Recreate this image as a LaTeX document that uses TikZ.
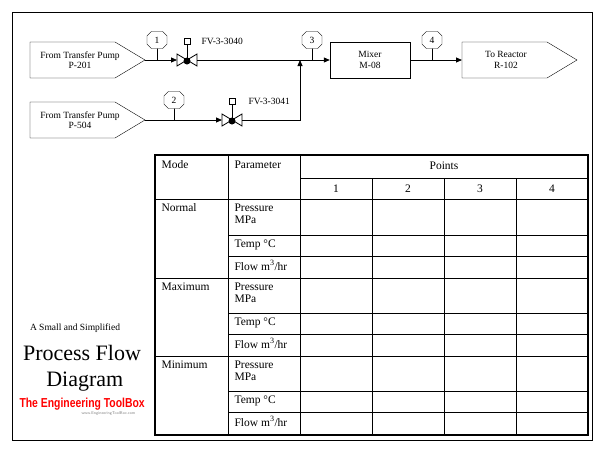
\documentclass[tikz,border=0pt]{standalone}
\usepackage{fontspec}
\setmainfont{Liberation Serif}
\newfontfamily\logofont{Liberation Sans}[FakeStretch=0.8]
\usetikzlibrary{arrows.meta,shapes.misc}
\begin{document}
\begin{tikzpicture}[x=1pt,y=-1pt,
  lbl/.style={font=\fontsize{9.5}{10.5}\selectfont},
  tlbl/.style={font=\fontsize{11.5}{12.5}\selectfont},
  tag/.style={draw,chamfered rectangle,chamfered rectangle xsep=2pt,minimum width=20pt,minimum height=17pt,inner sep=0pt,fill=white,font=\fontsize{9.5}{10}\selectfont},
  pipe/.style={line width=0.8pt},
  arr/.style={pipe,-{Triangle[length=6pt,width=5pt]}}]
\useasboundingbox (0,0) rectangle (600,450);
\draw[line width=0.8pt] (12,12) rectangle (592,440);
% sources
\draw (30,42) -- (115,42) -- (145,60) -- (115,78) -- (30,78) -- cycle;
\node[lbl,align=center] (s1) at (80,60) {From Transfer Pump\\P-201};
\coordinate (s1o) at (145,60);
\draw (30,102) -- (115,102) -- (145,120) -- (115,138) -- (30,138) -- cycle;
\node[lbl,align=center] (s2) at (80,120) {From Transfer Pump\\P-504};
\coordinate (s2o) at (145,120);
% valve 1
\coordinate (v1a) at (177,60); \coordinate (v1b) at (197,60);
\draw[arr] (s1o) -- (v1a);
\draw[pipe] (v1a)++(0,-6) -- ++(0,12) -- ++(20,-12) -- ++(0,12) -- ++(-20,-12) -- cycle;
\fill (187,61) circle (3.5pt);
\draw (187,60) -- (187,44); \draw[fill=white] (184,38) rectangle (190,44);
\node[lbl,anchor=west] (fv1) at (198,41) {FV-3-3040};
% valve 2
\coordinate (v2a) at (222,120); \coordinate (v2b) at (242,120);
\draw[arr] (s2o) -- (v2a);
\draw[pipe] (v2a)++(0,-6) -- ++(0,12) -- ++(20,-12) -- ++(0,12) -- ++(-20,-12) -- cycle;
\fill (232,121) circle (3.5pt);
\draw (232,120) -- (232,104); \draw[fill=white] (229,98) rectangle (235,104);
\node[lbl,anchor=west] (fv2) at (245,101) {FV-3-3041};
\coordinate (j) at (300,60);
\draw[arr] (v2b) -- (300,120) -- (j);
% mixer
\node[draw,minimum width=80pt,minimum height=36pt,lbl,align=center] (mix) at (370,60) {Mixer\\M-08};
\draw[arr] (v1b) -- (mix.west);
\draw (462,42) -- (547,42) -- (577,60) -- (547,78) -- (462,78) -- cycle;
\node[lbl,align=center] (r) at (506,60) {To Reactor\\R-102};
\coordinate (rin) at (462,60);
\draw[arr] (mix.east) -- (rin);
% tags
\draw (157,60) -- (157,40); \node[tag] (t1) at (157,40) {1};
\draw (174,120) -- (174,100); \node[tag] (t2) at (174,100) {2};
\draw (312,60) -- (312,40); \node[tag] (t3) at (312,40) {3};
\draw (432,60) -- (432,40); \node[tag] (t4) at (432,40) {4};
% title
\node[font=\fontsize{9.5}{11}\selectfont] (a) at (75,328) {A Small and Simplified};
\node[font=\fontsize{22}{26}\selectfont,align=center] (pf) at (82,368) {Process Flow\\\ Diagram};
\node[font=\logofont\bfseries\fontsize{13}{13}\selectfont,text=red,anchor=west] (tb) at (16,404) {The Engineering ToolBox};
\node[font=\sffamily\fontsize{4}{4}\selectfont,text=gray,anchor=west] (url) at (78,414) {www.EngineeringToolBox.com};
% table
\foreach \y in {199,278,356} \draw (155,\y) -- (588,\y);
\foreach \y in {235,256,313,334,391,412} \draw (228,\y) -- (588,\y);
\draw (300,178) -- (588,178);
\draw (228,155) -- (228,435);
\draw (300,155) -- (300,435);
\foreach \x in {372,444,516} \draw (\x,178) -- (\x,435);
\draw[line width=1.6pt] (155,155) rectangle (588,435);
\node[tlbl,anchor=north west] (m) at (158,157) {Mode};
\node[tlbl,anchor=north west] (p) at (231,157) {Parameter};
\node[tlbl] (pts) at (444,166) {Points};
\foreach \i/\x in {1/336,2/408,3/480,4/552} \node[tlbl] (c\i) at (\x,189) {\i};
\foreach \n/\y in {Normal/199,Maximum/278,Minimum/356}{
  \node[tlbl,anchor=north west] (\n) at (158,\y+1) {\n};
  \node[tlbl,anchor=north west,align=left] (\n p) at (231,\y+1) {Pressure\\MPa};
}
\foreach \y in {235,313,391} \node[tlbl,anchor=north west] (tc\y) at (231,\y+1) {Temp °C};
\foreach \y in {256,334,412} \node[tlbl,anchor=north west] (fl\y) at (231,\y+1) {Flow m\textsuperscript{3}/hr};
\end{tikzpicture}
\end{document}
